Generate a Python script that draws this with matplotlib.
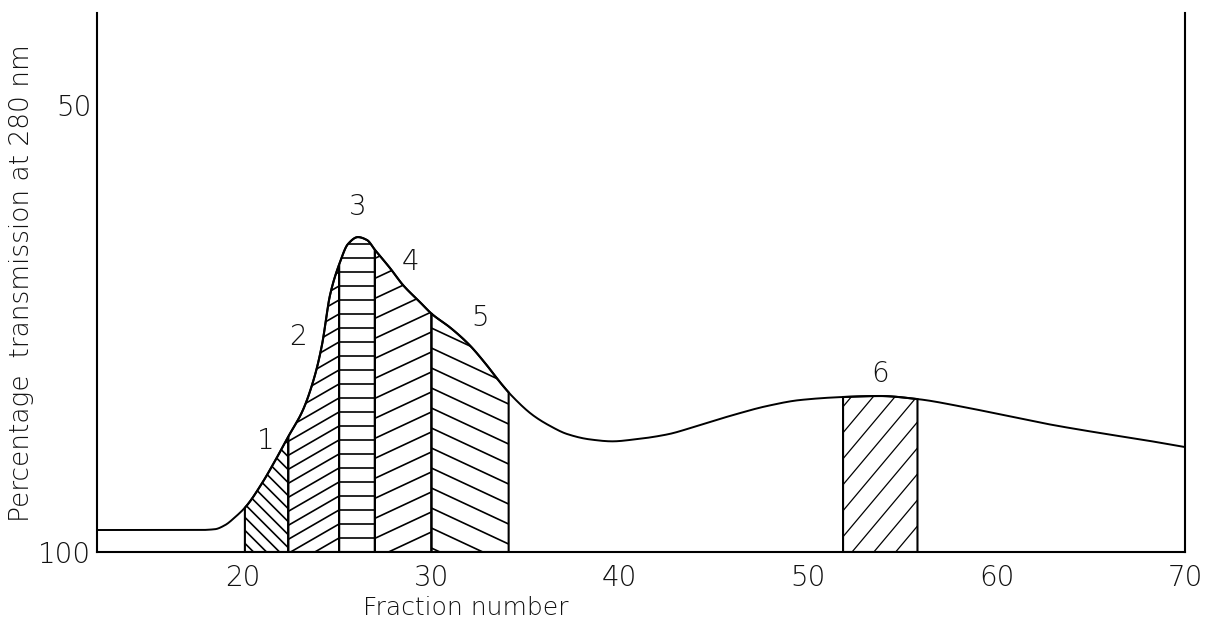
import numpy as np
import matplotlib
matplotlib.use('Agg')
import matplotlib.pyplot as plt
from matplotlib.patches import Polygon
from matplotlib.collections import LineCollection

# curva: numero de fraccion vs % transmision a 280 nm
fraccion = [12.25, 15.06, 17.72, 18.51, 19.04, 19.58, 20.16, 21.01, 21.70, 22.39,
            23.18, 23.82, 24.19, 24.62, 25.15, 25.57, 26.10, 26.58, 27.01, 27.80,
            28.49, 29.39, 30.03, 31.00, 32.00, 32.90, 33.60, 34.30, 35.39, 36.30,
            37.20, 38.40, 39.60, 40.80, 42.51, 44.26, 46.01, 47.81, 49.56, 51.85,
            53.81, 55.83, 58.06, 60.18, 62.83, 65.49, 68.14, 70.00]
transmision = [97.54, 97.54, 97.54, 97.45, 97.00, 96.10, 94.90, 92.30, 89.80, 87.14,
               84.12, 80.20, 76.85, 71.25, 67.56, 65.55, 64.77, 65.10, 66.22, 68.23,
               70.13, 72.04, 73.38, 74.90, 76.80, 79.00, 80.90, 82.60, 84.70, 85.90,
               86.80, 87.40, 87.62, 87.40, 86.85, 85.79, 84.68, 83.67, 83.00, 82.66,
               82.55, 82.90, 83.70, 84.60, 85.73, 86.69, 87.58, 88.26]

# fracciones sombreadas (inicio, fin)
regiones = [(20.1, 22.4), (22.4, 25.1), (25.1, 27.0), (27.0, 30.0), (30.0, 34.1), (51.85, 55.8)]
etiquetas = ['1', '2', '3', '4', '5', '6']
etiqueta_x = [21.2, 22.9, 26.1, 28.9, 32.6, 53.8]
etiqueta_y = [87.6, 75.9, 61.4, 67.6, 73.8, 80.1]

xticks = [20, 30, 40, 50, 60, 70]
yticks = [50, 100]

# rayado: angulo en pantalla (grados), separacion vertical (px), grosor
rayado = [(-45, 13, 1.2), (30, 14, 1.2), (0, 14, 1.2), (25, 20, 1.2), (-25, 20, 1.2), (50, 26, 0.9)]

plt.rcParams['font.family'] = ['DejaVu Sans']
color_txt = '#111111'


# cubica de Hermite monotona (solo para trazar la curva suave)
def suavizar(x, y, xn):
    x = np.asarray(x, float)
    y = np.asarray(y, float)
    h = np.diff(x)
    d = np.diff(y) / h
    m = np.zeros_like(y)
    m[0], m[-1] = d[0], d[-1]
    for k in range(1, len(x) - 1):
        if d[k - 1] * d[k] > 0:
            w1 = 2 * h[k] + h[k - 1]
            w2 = h[k] + 2 * h[k - 1]
            m[k] = (w1 + w2) / (w1 / d[k - 1] + w2 / d[k])
    i = np.clip(np.searchsorted(x, xn) - 1, 0, len(x) - 2)
    t = (xn - x[i]) / h[i]
    h00 = 2 * t**3 - 3 * t**2 + 1
    h10 = t**3 - 2 * t**2 + t
    h01 = -2 * t**3 + 3 * t**2
    h11 = t**3 - t**2
    return h00 * y[i] + h10 * h[i] * m[i] + h01 * y[i + 1] + h11 * h[i] * m[i + 1]


xs_c = np.linspace(fraccion[0], fraccion[-1], 2000)
ys_c = suavizar(fraccion, transmision, xs_c)

fig = plt.figure(figsize=(12.09, 6.39), dpi=100)
ax = fig.add_axes([97 / 1209, 1 - 552 / 639, (1185 - 97) / 1209, (552 - 13) / 639])
ax.set_xlim(12.25, 70)
ax.set_ylim(100, 39.7)

ax.plot(xs_c, ys_c, color='k', lw=1.4, solid_capstyle='round')


def sombrear(x0, x1, ang, sep, lw):
    xs = np.linspace(x0, x1, 120)
    ys = np.interp(xs, xs_c, ys_c)
    verts = [(x0, 100)] + list(zip(xs, ys)) + [(x1, 100)]
    poly = Polygon(verts, closed=True, fill=False, edgecolor='k', lw=1.5)
    ax.add_patch(poly)
    d = ax.transData.transform(verts)
    xmin, xmax = d[:, 0].min(), d[:, 0].max()
    ymin, ymax = d[:, 1].min(), d[:, 1].max()
    m = np.tan(np.radians(ang))
    ancho = xmax - xmin
    c0 = ymin - abs(m) * ancho - sep
    c1 = ymax + abs(m) * ancho + sep
    inv = ax.transData.inverted()
    segs = []
    for c in np.arange(c0, c1, sep):
        p = np.array([[xmin, c], [xmax, c + m * ancho]])
        segs.append(inv.transform(p))
    lc = LineCollection(segs, colors='k', linewidths=lw)
    ax.add_collection(lc)
    lc.set_clip_path(poly)


for (x0, x1), (ang, sep, lw) in zip(regiones, rayado):
    sombrear(x0, x1, ang, sep, lw)

for t, x, y in zip(etiquetas, etiqueta_x, etiqueta_y):
    ax.text(x, y, t, fontsize=20, ha='center', va='center', color=color_txt,
            fontweight='light')

for s in ['left', 'right', 'bottom']:
    ax.spines[s].set_linewidth(1.5)
ax.spines['top'].set_visible(False)

ax.set_xticks(xticks)
ax.set_yticks(yticks)
ax.tick_params(axis='x', length=0, pad=9, labelsize=20, labelcolor=color_txt)
ax.tick_params(axis='y', length=0, pad=4, labelsize=20, labelcolor=color_txt)
for lab in ax.get_xticklabels() + ax.get_yticklabels():
    lab.set_fontweight('light')

fig.text(22 / 1209, 1 - 283 / 639, 'Percentage  transmission at 280 nm', rotation=90,
         ha='center', va='center', fontsize=19, color=color_txt, fontweight='light')
fig.text(466 / 1209, 1 - 608 / 639, 'Fraction number', ha='center', va='center',
         fontsize=18, color=color_txt, fontweight='light')

fig.savefig('out.png', dpi=100)
